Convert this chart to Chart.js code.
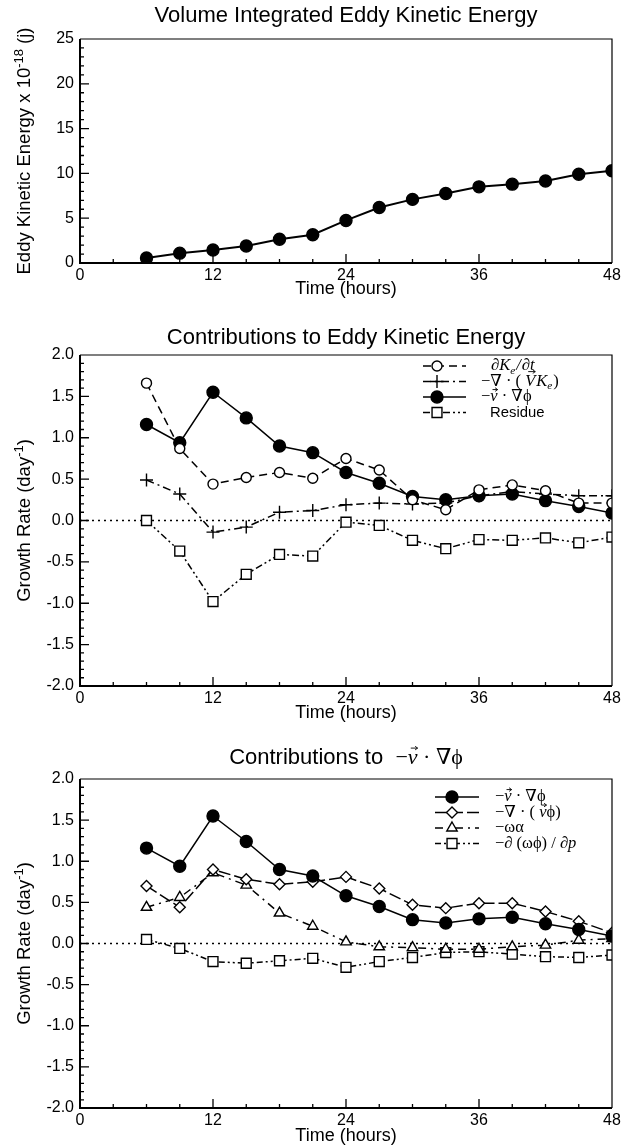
<!DOCTYPE html>
<html>
<head>
<meta charset="utf-8">
<script src="https://cdn.jsdelivr.net/npm/chart.js@4.4.1/dist/chart.umd.min.js"></script>
<style>
  html, body { margin: 0; padding: 0; background: #fff; }
  #wrap { position: relative; width: 628px; height: 1148px; overflow: hidden; }
  canvas { position: absolute; left: 0; }
</style>
</head>
<body>
<div id="wrap">
  <canvas id="c1" width="628" height="300" style="top:0"></canvas>
  <canvas id="c2" width="628" height="425" style="top:300px"></canvas>
  <canvas id="c3" width="628" height="423" style="top:725px"></canvas>
</div>
<script>
// ---- data (hours since start of run) ----
const hours = [6, 9, 12, 15, 18, 21, 24, 27, 30, 33, 36, 39, 42, 45, 48];
const xTicks = [0, 12, 24, 36, 48];

// volume integrated eddy kinetic energy, x 10^18 J
const eddyKE = [0.55, 1.1, 1.45, 1.9, 2.65, 3.15, 4.75, 6.2, 7.1, 7.75, 8.5, 8.8, 9.15, 9.9, 10.3];

// growth rates (day^-1)
const dKeDt    = [1.66, 0.87, 0.44, 0.52, 0.58, 0.51, 0.75, 0.61, 0.25, 0.13, 0.37, 0.43, 0.36, 0.21, 0.21];
const divVKe   = [0.49, 0.32, -0.14, -0.08, 0.10, 0.12, 0.19, 0.21, 0.20, 0.21, 0.30, 0.35, 0.32, 0.30, 0.30];
const vGradPhi = [1.16, 0.94, 1.55, 1.24, 0.90, 0.82, 0.58, 0.45, 0.29, 0.25, 0.30, 0.32, 0.24, 0.17, 0.09];
const residue  = [0.0, -0.37, -0.98, -0.65, -0.41, -0.43, -0.02, -0.06, -0.24, -0.34, -0.23, -0.24, -0.21, -0.27, -0.20];

const divVPhi    = [0.70, 0.44, 0.90, 0.78, 0.72, 0.75, 0.81, 0.67, 0.47, 0.43, 0.49, 0.49, 0.39, 0.27, 0.13];
const omegaAlpha = [0.44, 0.56, 0.86, 0.71, 0.37, 0.21, 0.02, -0.04, -0.05, -0.07, -0.07, -0.04, -0.02, 0.04, 0.06];
const dOmegaPhi  = [0.05, -0.06, -0.22, -0.24, -0.21, -0.18, -0.29, -0.22, -0.17, -0.11, -0.10, -0.13, -0.16, -0.17, -0.14];

// ---- text helpers ----
const SANS = '"Liberation Sans", Arial, Helvetica, sans-serif';
const SERIF = '"Liberation Serif", "DejaVu Serif", "Times New Roman", serif';
const PHI = '\u03D5';

function s(t, o) { return Object.assign({ t: t }, o || {}); }
function fontOf(g, size) {
  const sz = size * (g.scale || 1);
  return (g.italic ? 'italic ' : '') + sz + 'px ' + (g.serif ? SERIF : SANS);
}
function drawVec(ctx, x, w, y, sz, cap) {
  const yy = y - (cap ? 0.6 : 0.45) * sz;
  const x0 = x + w * 0.3, x1 = x + w * 1.0;
  ctx.save();
  ctx.lineWidth = 0.9;
  ctx.setLineDash([]);
  ctx.beginPath();
  ctx.moveTo(x0, yy); ctx.lineTo(x1, yy);
  ctx.moveTo(x1 - 2.5, yy - 1.8); ctx.lineTo(x1, yy); ctx.lineTo(x1 - 2.5, yy + 1.8);
  ctx.stroke();
  ctx.restore();
}
function drawRich(ctx, segs, x, y, size, align) {
  let w = 0;
  const ms = segs.map(g => {
    ctx.font = fontOf(g, size);
    const m = ctx.measureText(g.t).width;
    w += m + (g.gap || 0);
    return m;
  });
  let cx = align === 'center' ? x - w / 2 : x;
  ctx.textBaseline = 'middle';
  ctx.textAlign = 'left';
  ctx.fillStyle = '#000';
  ctx.strokeStyle = '#000';
  segs.forEach((g, i) => {
    ctx.font = fontOf(g, size);
    const yy = y + (g.dy || 0) * size;
    ctx.fillText(g.t, cx, yy);
    if (g.vec) drawVec(ctx, cx, ms[i], yy, size * (g.scale || 1), g.cap);
    cx += ms[i] + (g.gap || 0);
  });
}

// math fragments
const SUB_E = s('e', { serif: true, italic: true, scale: 0.68, dy: 0.3, gap: 1 });
const lblDKeDt = [s('\u2202', { serif: true }), s('K', { serif: true, italic: true }), SUB_E,
  s('/', { serif: true, italic: true, gap: 1 }), s('\u2202', { serif: true }), s('t', { serif: true, italic: true })];
const lblDivVKe = [s('\u2212\u2207 \u00B7 ( ', { serif: true }), s('V', { serif: true, italic: true, vec: true, cap: true, gap: 1 }),
  s('K', { serif: true, italic: true }), SUB_E, s(')', { serif: true })];
const lblVGradPhi = [s('\u2212', { serif: true }), s('v', { serif: true, italic: true, vec: true }),
  s(' \u00B7 \u2207' + PHI, { serif: true })];
const lblResidue = [s('Residue', { scale: 0.9 })];
const lblDivVPhi = [s('\u2212\u2207 \u00B7 ( ', { serif: true }), s('v', { serif: true, italic: true, vec: true }),
  s(PHI + ')', { serif: true })];
const lblOmegaAlpha = [s('\u2212\u03C9\u03B1', { serif: true })];
const lblDOmegaPhi = [s('\u2212\u2202 (\u03C9' + PHI + ') / \u2202', { serif: true }), s('p', { serif: true, italic: true })];

// ---- axes frame, inward ticks, titles and legend ----
const framePlugin = {
  id: 'frame',
  beforeDatasetsDraw(chart, args, o) {
    if (!o.zeroLine) return;
    const { ctx, chartArea: a } = chart;
    const py = chart.scales.y.getPixelForValue(0);
    ctx.save();
    ctx.setLineDash([2, 4]);
    ctx.lineWidth = 1.6;
    ctx.strokeStyle = '#000';
    ctx.beginPath(); ctx.moveTo(a.left, py); ctx.lineTo(a.right, py); ctx.stroke();
    ctx.restore();
  },
  afterDraw(chart, args, o) {
    const { ctx, chartArea: a } = chart;
    const xs = chart.scales.x, ys = chart.scales.y;
    ctx.save();
    ctx.strokeStyle = '#000';
    ctx.setLineDash([]);
    // frame
    ctx.lineWidth = 1.2;
    ctx.beginPath();
    ctx.moveTo(a.left, a.top); ctx.lineTo(a.right, a.top); ctx.lineTo(a.right, a.bottom);
    ctx.stroke();
    ctx.lineWidth = 2;
    ctx.beginPath();
    ctx.moveTo(a.left, a.top); ctx.lineTo(a.left, a.bottom); ctx.lineTo(a.right, a.bottom);
    ctx.stroke();
    // ticks, pointing inward
    ctx.lineWidth = 1.3;
    ctx.beginPath();
    for (let h = 3; h < 48; h += 3) {
      const px = xs.getPixelForValue(h);
      const len = h % 12 === 0 ? 9 : 4;
      ctx.moveTo(px, a.bottom); ctx.lineTo(px, a.bottom - len);
    }
    const n = Math.round((o.ymax - o.ymin) / o.minor);
    for (let i = 1; i < n; i++) {
      const v = o.ymin + i * o.minor;
      const py = ys.getPixelForValue(v);
      const major = Math.abs(v / o.major - Math.round(v / o.major)) < 1e-6;
      ctx.moveTo(a.left, py); ctx.lineTo(a.left + (major ? 9 : 4), py);
    }
    ctx.stroke();
    // titles
    const cxPlot = (a.left + a.right) / 2;
    drawRich(ctx, o.title, cxPlot, o.titleY, 22, 'center');
    drawRich(ctx, [s('Time (hours)')], cxPlot, o.xTitleY, 18, 'center');
    ctx.save();
    ctx.translate(25, (a.top + a.bottom) / 2);
    ctx.rotate(-Math.PI / 2);
    drawRich(ctx, o.yTitle, 0, 0, 18.5, 'center');
    ctx.restore();
    // legend
    if (o.legend) {
      const L = o.legend;
      L.items.forEach((it, i) => {
        const ds = chart.data.datasets[it.ds];
        const y = L.y0 + i * L.dy;
        ctx.save();
        ctx.lineWidth = ds.borderWidth;
        ctx.setLineDash(ds.borderDash || []);
        ctx.beginPath(); ctx.moveTo(L.x0, y); ctx.lineTo(L.x1, y); ctx.stroke();
        ctx.setLineDash([]);
        ctx.fillStyle = ds.pointBackgroundColor;
        ctx.strokeStyle = '#000';
        ctx.lineWidth = ds.pointBorderWidth;
        Chart.helpers.drawPoint(ctx, { pointStyle: ds.pointStyle, radius: ds.pointRadius, rotation: 0, borderWidth: ds.pointBorderWidth }, L.xm, y);
        ctx.restore();
        drawRich(ctx, it.label, L.xt + (it.dx || 0), y, L.size, 'left');
      });
    }
    ctx.restore();
  }
};

function series(vals, style) {
  return Object.assign({
    data: hours.map((h, i) => ({ x: h, y: vals[i] })),
    borderColor: '#000',
    borderWidth: 1.5,
    pointBorderColor: '#000',
    pointBorderWidth: 1.4,
    tension: 0,
    clip: 0
  }, style);
}

const filledCircle = { pointStyle: 'circle', pointRadius: 6, pointBackgroundColor: '#000' };

function makeChart(id, cfg) {
  const ticksFont = { family: SANS, size: 16 };
  return new Chart(document.getElementById(id), {
    type: 'line',
    data: { datasets: cfg.datasets },
    options: {
      responsive: false,
      animation: false,
      events: [],
      layout: { padding: { top: cfg.top, right: 16, left: 0, bottom: 0 } },
      scales: {
        x: {
          type: 'linear', min: 0, max: 48,
          afterFit(sc) { sc.height = cfg.xh; },
          afterBuildTicks(sc) { sc.ticks = xTicks.map(v => ({ value: v })); },
          grid: { display: false, drawTicks: false },
          border: { display: false },
          ticks: { padding: 3, color: '#000', font: ticksFont, maxRotation: 0, autoSkip: false }
        },
        y: {
          type: 'linear', min: cfg.ymin, max: cfg.ymax,
          afterFit(sc) { sc.width = 80; },
          grid: { display: false, drawTicks: false },
          border: { display: false },
          ticks: { stepSize: cfg.ystep, padding: 6, color: '#000', font: ticksFont, callback: cfg.yfmt }
        }
      },
      plugins: {
        legend: { display: false },
        tooltip: { enabled: false },
        frame: cfg.frame
      }
    },
    plugins: [framePlugin]
  });
}

// ---- panel 1: volume integrated eddy kinetic energy ----
makeChart('c1', {
  top: 39, xh: 37, ymin: 0, ymax: 25, ystep: 5,
  yfmt: v => String(v),
  datasets: [series(eddyKE, Object.assign({ borderWidth: 2 }, filledCircle))],
  frame: {
    ymin: 0, ymax: 25, minor: 1, major: 5,
    title: [s('Volume Integrated Eddy Kinetic Energy')],
    titleY: 16, xTitleY: 289,
    yTitle: [s('Eddy Kinetic Energy x 10'), s('-18', { scale: 0.7, dy: -0.32 }), s(' (j)')]
  }
});

// ---- panel 2: contributions to eddy kinetic energy ----
const growthFmt = v => v.toFixed(1);
makeChart('c2', {
  top: 55, xh: 39, ymin: -2, ymax: 2, ystep: 0.5, yfmt: growthFmt,
  datasets: [
    series(dKeDt, { borderDash: [8, 5], pointStyle: 'circle', pointRadius: 5, pointBackgroundColor: '#fff' }),
    series(divVKe, { borderDash: [8, 4, 2, 4], pointStyle: 'cross', pointRadius: 6.5, pointBackgroundColor: '#000' }),
    series(vGradPhi, Object.assign({}, filledCircle)),
    series(residue, { borderDash: [7, 3, 2, 3, 2, 3], pointStyle: 'rect', pointRadius: 7, pointBackgroundColor: '#fff' })
  ],
  frame: {
    ymin: -2, ymax: 2, minor: 0.1, major: 0.5, zeroLine: true,
    title: [s('Contributions to Eddy Kinetic Energy')],
    titleY: 38, xTitleY: 413,
    yTitle: [s('Growth Rate (day'), s('-1', { scale: 0.7, dy: -0.32 }), s(')')],
    legend: {
      x0: 423, x1: 466, xm: 437, xt: 481, y0: 66, dy: 15.5, size: 16.5,
      items: [
        { ds: 0, label: lblDKeDt, dx: 10 },
        { ds: 1, label: lblDivVKe },
        { ds: 2, label: lblVGradPhi },
        { ds: 3, label: lblResidue, dx: 9 }
      ]
    }
  }
});

// ---- panel 3: contributions to -v . grad(phi) ----
makeChart('c3', {
  top: 54, xh: 40, ymin: -2, ymax: 2, ystep: 0.5, yfmt: growthFmt,
  datasets: [
    series(vGradPhi, Object.assign({}, filledCircle)),
    series(divVPhi, { borderDash: [12, 4], pointStyle: 'rectRot', pointRadius: 5.5, pointBackgroundColor: '#fff' }),
    series(omegaAlpha, { borderDash: [8, 5, 2, 5], pointStyle: 'triangle', pointRadius: 6, pointBackgroundColor: '#fff' }),
    series(dOmegaPhi, { borderDash: [6, 3, 2, 3, 2, 3], pointStyle: 'rect', pointRadius: 7, pointBackgroundColor: '#fff' })
  ],
  frame: {
    ymin: -2, ymax: 2, minor: 0.1, major: 0.5, zeroLine: true,
    title: [s('Contributions to  '), s('\u2212', { serif: true }), s('v', { serif: true, italic: true, vec: true }),
      s(' \u00B7 \u2207' + PHI, { serif: true })],
    titleY: 33, xTitleY: 411,
    yTitle: [s('Growth Rate (day'), s('-1', { scale: 0.7, dy: -0.32 }), s(')')],
    legend: {
      x0: 435, x1: 479, xm: 452, xt: 495, y0: 72, dy: 15.5, size: 16.5,
      items: [
        { ds: 0, label: lblVGradPhi },
        { ds: 1, label: lblDivVPhi },
        { ds: 2, label: lblOmegaAlpha },
        { ds: 3, label: lblDOmegaPhi }
      ]
    }
  }
});
</script>
</body>
</html>
